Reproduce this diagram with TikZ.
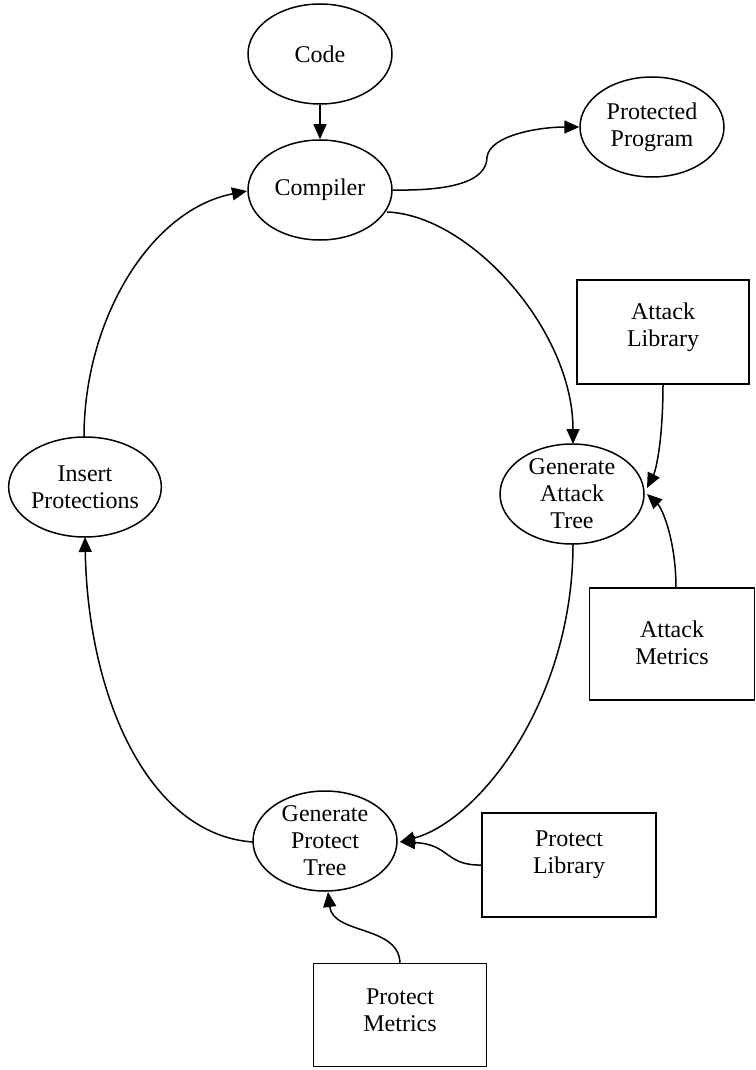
\documentclass[tikz,border=0pt]{standalone}
\usepackage{fontspec}
\setmainfont{Liberation Serif}
\usetikzlibrary{shapes.geometric,arrows.meta}
\tikzset{
  ell/.style={draw, line width=1.5pt, ellipse, minimum width=144pt, minimum height=100pt, inner sep=0pt, align=center, font=\fontsize{24}{27}\selectfont},
  rbox/.style={draw, line width=1.5pt, rectangle, inner sep=0pt},
  txt/.style={align=center, inner sep=0pt, font=\fontsize{24}{27}\selectfont},
  arr/.style={line width=1.5pt, -{Triangle[length=15pt,width=13pt]}},
  ln/.style={line width=1.5pt}
}
\begin{document}
\begin{tikzpicture}[x=1pt, y=-1pt]
\useasboundingbox (0,0) rectangle (755,1070);
% nodes
\node[ell] (code) at (320,54) {Code};
\node[ell] (comp) at (320,190) {Compiler};
\node[ell] (pp) at (652,127) {Protected\\Program};
\node[rbox, minimum width=172pt, minimum height=104pt, label={[txt, yshift=5pt]center:{Attack\\Library}}] (al) at (663,332) {};
\node[ell] (gat) at (572,494) {Generate\\Attack\\Tree};
\node[ell] (ip) at (85,487) {Insert\\Protections};
\node[rbox, minimum width=165pt, minimum height=112pt, label={[txt, yshift=1pt]center:{Attack\\Metrics}}] (am) at (672,644) {};
\node[ell] (gpt) at (325,841) {Generate\\Protect\\Tree};
\node[rbox, minimum width=174pt, minimum height=104pt, label={[txt, yshift=10pt]center:{Protect\\Library}}] (pl) at (569,865) {};
\node[rbox, minimum width=173pt, minimum height=103pt, label={[txt, yshift=5pt]center:{Protect\\Metrics}}] (pm) at (400,1015) {};
% helper coordinates
\coordinate (compse) at (387,212);
\coordinate (gatn) at (573,444);
\coordinate (gats) at (573,544);
\coordinate (gate1) at (647,488);
\coordinate (gate2) at (647,494);
\coordinate (ipn) at (84,437);
\coordinate (ips) at (85,537);
\coordinate (gptw) at (253,842);
\coordinate (gpte) at (400,842);
\coordinate (gpts) at (328,892);
\coordinate (compw) at (247,191);
\coordinate (alb) at (663,384);
\coordinate (amt) at (676,588);
\coordinate (plw) at (482,865);
\coordinate (pmt) at (400,964);
% edges
\draw[arr] (code.south) -- (comp.north);
\draw[arr] (comp.east) .. controls (450,191) and (487,182) .. (487,157) .. controls (490,135) and (540,127) .. (pp.west);
\draw[arr] (compse) .. controls (470,215) and (573,330) .. (gatn);
\draw[arr] (alb) .. controls (663,440) and (656,470) .. (gate1);
\draw[arr] (amt) .. controls (676,540) and (662,508) .. (gate2);
\draw[arr] (gats) .. controls (573,700) and (480,820) .. (gpte);
\draw[arr] (plw) .. controls (445,866) and (450,844) .. (gpte);
\draw[arr] (pmt) .. controls (400,925) and (333,935) .. (gpts);
\draw[arr] (gptw) .. controls (150,835) and (88,700) .. (ips);
\draw[arr] (ipn) .. controls (84,320) and (150,210) .. (compw);
\end{tikzpicture}
\end{document}
